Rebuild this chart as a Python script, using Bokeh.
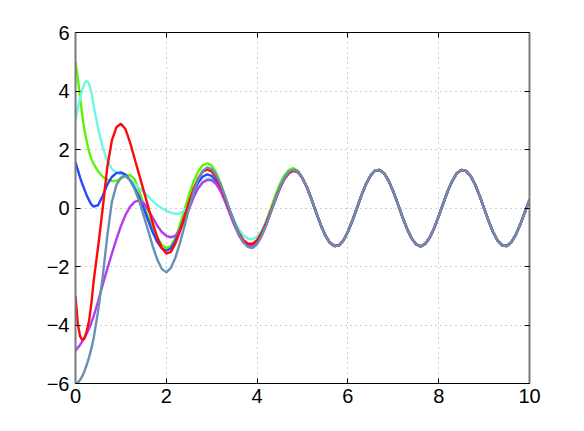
from bokeh.plotting import figure
from bokeh.models import Range1d, LinearAxis, FixedTicker, CustomJSTickFormatter
from bokeh.embed import file_html
from bokeh.resources import INLINE

# ---- data ----
head_x = [0.0, 0.05, 0.1, 0.15, 0.2, 0.25, 0.3, 0.35, 0.4,
          0.5, 0.6, 0.7, 0.8, 0.9, 1.0, 1.1, 1.2, 1.3, 1.4, 1.5, 1.6, 1.7, 1.8, 1.9,
          2.0, 2.1, 2.2, 2.3, 2.4, 2.5, 2.6, 2.7, 2.8, 2.9,
          3.0, 3.1, 3.2, 3.3, 3.4, 3.5, 3.6, 3.7, 3.8, 3.9,
          4.0, 4.1, 4.2, 4.3, 4.4, 4.5, 4.6, 4.7, 4.8, 4.9]

green_y = [5.0, 4.45, 3.8, 3.15, 2.65, 2.25, 1.92, 1.68, 1.5,
           1.25, 1.07, 0.97, 0.92, 0.93, 1.0, 1.1, 1.13, 0.99, 0.6, 0.13, -0.3, -0.7, -1.02, -1.26,
           -1.37, -1.3, -1.02, -0.58, -0.07, 0.45, 0.9, 1.24, 1.46, 1.53,
           1.45, 1.2, 0.82, 0.38, -0.1, -0.55, -0.92, -1.18, -1.3, -1.28,
           -1.12, -0.83, -0.45, -0.02, 0.42, 0.82, 1.12, 1.3, 1.36, 1.27]

cyan_y = [3.0, 3.4, 3.75, 4.05, 4.27, 4.36, 4.25, 3.95, 3.5,
          2.7, 2.07, 1.62, 1.34, 1.21, 1.16, 1.08, 0.96, 0.83, 0.69, 0.55, 0.4, 0.24, 0.1, -0.01,
          -0.09, -0.16, -0.2, -0.19, -0.08, 0.12, 0.4, 0.67, 0.88, 1.0,
          1.01, 0.88, 0.63, 0.3, -0.07, -0.43, -0.73, -0.94, -1.05, -1.07,
          -0.98, -0.77, -0.46, -0.08, 0.32, 0.7, 1.01, 1.21, 1.29, 1.24]

blue_y = [1.57, 1.3, 1.05, 0.82, 0.62, 0.42, 0.26, 0.12, 0.05,
          0.1, 0.42, 0.8, 1.06, 1.19, 1.22, 1.14, 0.96, 0.7, 0.38, 0.0, -0.42, -0.83, -1.16, -1.38,
          -1.46, -1.38, -1.12, -0.74, -0.3, 0.14, 0.54, 0.86, 1.07, 1.15,
          1.1, 0.92, 0.62, 0.25, -0.15, -0.55, -0.9, -1.15, -1.3, -1.32,
          -1.2, -0.93, -0.57, -0.15, 0.28, 0.68, 1.0, 1.22, 1.3, 1.24]

purple_y = [-4.88, -4.78, -4.68, -4.56, -4.43, -4.28, -4.12, -3.92, -3.7,
            -3.18, -2.62, -2.08, -1.57, -1.07, -0.62, -0.24, 0.04, 0.21, 0.26, 0.17, -0.06, -0.33, -0.6, -0.82,
            -0.95, -1.0, -0.95, -0.75, -0.43, -0.04, 0.36, 0.67, 0.87, 0.96,
            0.95, 0.82, 0.56, 0.2, -0.2, -0.6, -0.94, -1.17, -1.29, -1.3,
            -1.18, -0.93, -0.57, -0.15, 0.27, 0.66, 0.98, 1.19, 1.27, 1.23]

red_y = [-3.0, -3.95, -4.38, -4.52, -4.45, -4.2, -3.85, -3.25, -2.5,
         -1.3, 0.0, 1.4, 2.3, 2.76, 2.88, 2.7, 2.25, 1.7, 1.15, 0.6, 0.05, -0.52, -1.0, -1.36,
         -1.56, -1.5, -1.22, -0.8, -0.3, 0.2, 0.65, 1.0, 1.24, 1.32,
         1.25, 1.05, 0.72, 0.32, -0.1, -0.5, -0.85, -1.1, -1.22, -1.22,
         -1.1, -0.85, -0.5, -0.1, 0.3, 0.7, 1.0, 1.2, 1.28, 1.23]

steel_y = [-6.0, -5.97, -5.88, -5.75, -5.57, -5.35, -5.1, -4.8, -4.45,
           -3.5, -2.35, -0.95, 0.2, 0.78, 1.04, 1.1, 0.95, 0.65, 0.25, -0.25, -0.77, -1.3, -1.76, -2.08,
           -2.2, -2.05, -1.7, -1.2, -0.62, -0.02, 0.54, 0.98, 1.27, 1.39,
           1.34, 1.13, 0.8, 0.38, -0.08, -0.52, -0.9, -1.18, -1.34, -1.37,
           -1.24, -0.96, -0.59, -0.16, 0.28, 0.7, 1.02, 1.24, 1.31, 1.24]

# shared steady-state tail (all curves coincide here)
tail_x = [5.0, 5.1, 5.2, 5.3, 5.4, 5.5, 5.6, 5.7, 5.8, 5.9,
          6.0, 6.1, 6.2, 6.3, 6.4, 6.5, 6.6, 6.7, 6.8, 6.9,
          7.0, 7.1, 7.2, 7.3, 7.4, 7.5, 7.6, 7.7, 7.8, 7.9,
          8.0, 8.1, 8.2, 8.3, 8.4, 8.5, 8.6, 8.7, 8.8, 8.9,
          9.0, 9.1, 9.2, 9.3, 9.4, 9.5, 9.6, 9.7, 9.8, 9.9, 10.0]
tail_y = [1.02, 0.70, 0.29, -0.15, -0.57, -0.93, -1.18, -1.30, -1.28, -1.11,
          -0.81, -0.43, 0.00, 0.44, 0.82, 1.11, 1.28, 1.30, 1.18, 0.92,
          0.56, 0.14, -0.30, -0.70, -1.03, -1.24, -1.31, -1.23, -1.02, -0.69,
          -0.28, 0.16, 0.58, 0.93, 1.19, 1.30, 1.27, 1.10, 0.81, 0.42,
          -0.01, -0.45, -0.83, -1.12, -1.28, -1.30, -1.17, -0.91, -0.55, -0.13, 0.28]

series = [
    ("green", green_y, "#5cf500"),
    ("cyan", cyan_y, "#6cf8e0"),
    ("blue", blue_y, "#2648ff"),
    ("purple", purple_y, "#b43cf5"),
    ("red", red_y, "#ff0a0a"),
    ("steel", steel_y, "#6690b4"),
]

x_ticks = [0, 2, 4, 6, 8, 10]
x_tick_labels = ["0", "2", "4", "6", "8", "10"]
y_ticks = [-6, -4, -2, 0, 2, 4, 6]
y_tick_labels = ["\u22126", "\u22124", "\u22122", "0", "2", "4", "6"]

W, H = 576, 423
p = figure(width=W, height=H, output_backend="svg", toolbar_location=None,
           x_range=Range1d(0, 10), y_range=Range1d(-6, 6),
           x_axis_location=None, y_axis_location=None,
           min_border_left=75, min_border_right=W - 529, min_border_top=32,
           min_border_bottom=H - 383)
p.outline_line_color = None
p.background_fill_color = "white"
p.border_fill_color = "white"

FONT = "Liberation Sans"

def make_axis(ticks, labels, show_labels, line_color, line_width):
    ax = LinearAxis(ticker=FixedTicker(ticks=ticks))
    if show_labels:
        ax.major_label_overrides = {t: l for t, l in zip(ticks, labels)}
        ax.major_label_text_font = FONT
        ax.major_label_text_font_size = "20px"
        ax.major_label_text_color = "black"
    else:
        ax.formatter = CustomJSTickFormatter(code="return ''")
    ax.major_tick_in = 5
    ax.major_tick_out = 0
    ax.minor_tick_in = 0
    ax.minor_tick_out = 0
    ax.axis_line_color = line_color
    ax.axis_line_width = line_width
    ax.major_tick_line_color = "black"
    return ax

bx = make_axis(x_ticks, x_tick_labels, True, "black", 1)
bx.major_label_standoff = 5
lx = make_axis(y_ticks, y_tick_labels, True, "#7a7a7a", 2)
lx.major_label_standoff = 6
tx = make_axis(x_ticks, x_tick_labels, False, "black", 1)
rx = make_axis(y_ticks, y_tick_labels, False, "#7a7a7a", 2)
p.add_layout(bx, "below")
p.add_layout(lx, "left")
p.add_layout(tx, "above")
p.add_layout(rx, "right")

for g in (p.xgrid, p.ygrid):
    g.grid_line_color = "#888888"
    g.grid_line_dash = "1 4"
    g.grid_line_width = 1
    g.grid_line_alpha = 0.8
p.xgrid.ticker = FixedTicker(ticks=x_ticks)
p.ygrid.ticker = FixedTicker(ticks=y_ticks)

for name, ys, col in series:
    p.line(head_x + tail_x, ys + tail_y, line_color=col, line_width=2.4)

open("out.html", "w").write(file_html(p, INLINE))
